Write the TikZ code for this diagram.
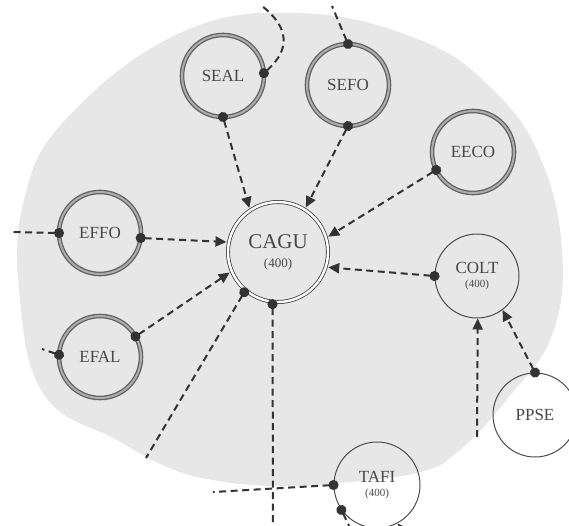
\documentclass[tikz,border=0pt]{standalone}
\usepackage{fontspec}
\setmainfont{Liberation Serif}
\usetikzlibrary{arrows.meta}
\definecolor{zone}{gray}{0.905}
\begin{document}
\begin{tikzpicture}[
        x=1pt, y=-1pt,
        every node/.style={circle, inner sep=0pt, text=black!72, align=center, font=\fontsize{17}{18}\selectfont},
        ring/.style={draw=black!62, double=black!32, double distance=2pt, line width=1.3pt, minimum size=82pt, outer sep=0pt},
        hub/.style={draw=black!75, double=white, double distance=2.4pt, line width=0.8pt, minimum size=100pt, outer sep=2.5pt, font=\fontsize{21}{22}\selectfont},
        plain/.style={draw=black!70, line width=1pt, minimum size=84pt},
        link/.style={draw=black!80, line width=2pt, dash pattern=on 7pt off 4.5pt},
        feed/.style={link, {Circle[length=10pt]}-{Triangle[length=11pt,width=10pt]}, shorten <=-5pt},
        tail/.style={link, {Circle[length=10pt]}-, shorten <=-5pt},
        head/.style={link, -{Triangle[length=11pt,width=10pt]}},
    ]
    \useasboundingbox (0,0) rectangle (569,525);
    \clip (0,0) rectangle (569,525);
    % shaded zone behind the nodes
    \fill[zone] plot[smooth cycle, tension=0.7] coordinates {
        (300,13) (420,40) (493,90) (540,157) (562,250) (552,335) (508,398)
        (460,450) (420,472) (340,483) (273,486) (213,480) (167,467) (117,440)
        (45,396) (20,300) (24,200) (67,118) (180,33)};

    \node[ring](seal) at (223,76){SEAL};
    \node[ring](sefo) at (348,85){SEFO};
    \node[ring](eeco) at (473,152){EECO};
    \node[ring](effo) at (100,233){EFFO};
    \node[ring](efal) at (100,357){EFAL};
    \node[hub](cagu) at (278,252){CAGU\\[-3pt]{\fontsize{13}{14}\selectfont (400)}};
    \node[plain](colt) at (477,276){COLT\\[-4pt]{\fontsize{11}{12}\selectfont (400)}};
    \node[plain](ppse) at (535,415){PPSE};
    \node[plain,minimum size=86pt](tafi) at (377,485){TAFI\\[-4pt]{\fontsize{11}{12}\selectfont (400)}};

    % loose ends
    \coordinate (sealout) at (262,6);
    \coordinate (sefoout) at (332,6);
    \coordinate (effoin) at (10,232);
    \coordinate (efalin) at (42,349);
    \coordinate (cagusw) at (146,458);
    \coordinate (cagus) at (273,528);
    \coordinate (coltin) at (477,437);
    \coordinate (tafiw) at (213,492);
    \coordinate (tafisw) at (352,532);
    \coordinate (tafiin1) at (356,548);
    \coordinate (tafiin2) at (418,548);

    \draw[feed] (seal.-90) -- (cagu.123);
    \draw[feed] (sefo.-90) -- (cagu.58);
    \draw[feed] (eeco.-154) -- (cagu.17);
    \draw[feed] (colt.180) -- (cagu.-17);
    \draw[feed] (effo.-7) -- (cagu.169);
    \draw[feed] (efal.30) -- (cagu.203);
    \draw[feed] (ppse.90) -- (colt.-53);
    \draw[head] (coltin) -- (colt.-89);

    \draw[tail] (seal.4) .. controls (290,50) and (290,28) .. (sealout);
    \draw[tail] (sefo.90) -- (sefoout);
    \draw[tail] (effo.180) -- (effoin);
    \draw[tail] (efal.177) -- (efalin);
    \draw[tail] (cagu.230) -- (cagusw);
    \draw[tail] (cagu.-96) -- (cagus);
    \draw[tail] (tafi.180) -- (tafiw);
    \draw[tail] (tafi.215) -- (tafisw);
    \draw[head] (tafiin1) -- (tafi.-112);
    \draw[head] (tafiin2) -- (tafi.-62);
\end{tikzpicture}
\end{document}
